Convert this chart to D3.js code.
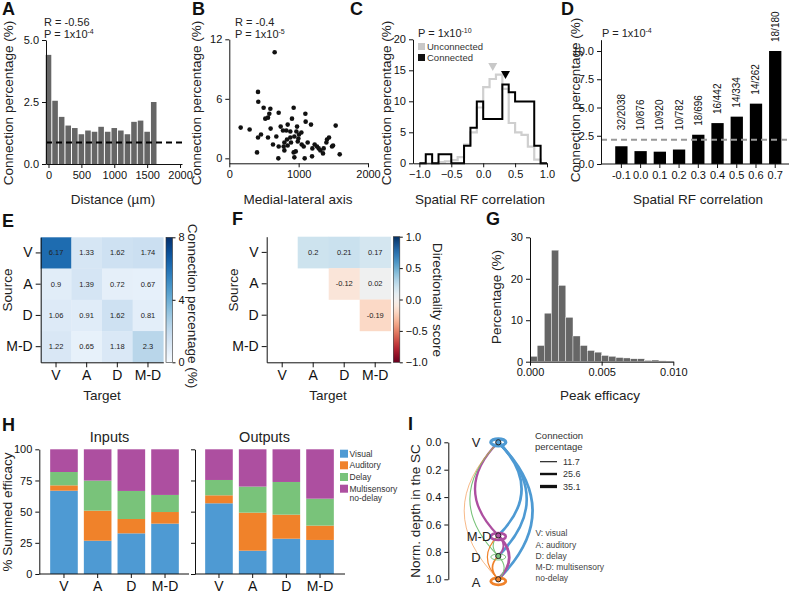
<!DOCTYPE html>
<meta charset="utf-8">
<style>
  body { margin: 0; background: #fff; }
  svg { font-family: Arial, "Liberation Sans", Helvetica, sans-serif; }
  .panel { font-size: 18px; font-weight: bold; fill: #111; }
  .lbl { font-size: 13.5px; fill: #222; }
  .small { font-size: 11px; fill: #222; }
</style>
<svg width="789" height="594"></svg>
<script src="https://d3js.org/d3.v7.min.js"></script>
<script>

// ---------- data ----------
// A: connection percentage vs distance
var distBins = [0, 100, 200, 300, 400, 500, 600, 700, 800, 900, 1000, 1100, 1200, 1300, 1400, 1500, 1600];
var distPct = [4.4, 2.55, 1.9, 1.55, 1.45, 1.2, 1.35, 1.3, 1.5, 1.3, 1.45, 1.35, 1.2, 1.7, 1.75, 1.3, 2.5];
var distChance = 0.87;

// B: medial-lateral scatter
var mlX = [654, 414, 418, 495, 592, 519, 558, 577, 712, 928, 1097, 1101, 1178, 164, 293, 596, 741, 904, 842, 774,
  822, 880, 977, 967, 1005, 1039, 938, 880, 832, 794, 842, 784, 890, 987, 1044, 996, 457, 414, 558, 630,
  678, 712, 928, 958, 938, 707, 1087, 400, 1193, 1198, 1231, 1265, 1289, 1313, 1351, 1361, 1400, 1409, 1438, 1481,
  1496, 1534, 1592, 1073, 1130, 794];
var mlY = [10.7, 6.7, 5.7, 5.1, 5.0, 4.0, 4.1, 4.5, 4.6, 5.1, 4.5, 3.7, 3.4, 3.1, 2.9, 3.0, 3.2, 4.0, 3.4, 2.8,
  2.8, 2.7, 3.2, 2.7, 2.4, 2.6, 2.2, 2.1, 1.9, 1.6, 1.3, 1.2, 1.6, 1.7, 1.4, 2.0, 2.4, 2.1, 2.1, 1.4,
  2.2, 1.2, 0.6, 0.7, 0.1, 0.0, 0.0, 0.6, 0.2, 1.0, 1.4, 1.2, 1.0, 0.8, 0.5, 1.0, 1.6, 1.9, 2.1, 1.2,
  1.3, 3.3, 0.4, 1.2, 1.6, 0.8];

// C: spatial RF correlation histograms
var rfEdges = [-1.0, -0.9, -0.8, -0.7, -0.6, -0.5, -0.4, -0.3, -0.2, -0.1, 0.0, 0.1, 0.2, 0.3, 0.4, 0.5, 0.6, 0.7, 0.8, 0.9];
var rfConnected = [0, 1.45, 0, 1.45, 1.45, 0, 0, 2.85, 5.75, 9.95, 7.15, 7.15, 7.15, 12.7, 11.45, 9.95, 9.95, 9.95, 2.85, 0];
var rfUnconnected = [0, 0, 0, 0.2, 0.3, 0.5, 1.0, 3.0, 5.0, 9.0, 12.3, 13.6, 14.3, 12.0, 6.5, 5.0, 4.6, 2.7, 0.6, 0];
var rfMeanUnconnected = 0.15, rfMeanConnected = 0.35;

// D: connection percentage per RF correlation bin
var rfCats = ["-0.1", "0.0", "0.1", "0.2", "0.3", "0.4", "0.5", "0.6", "0.7"];
var rfPct = [1.57, 1.14, 1.09, 1.28, 2.59, 3.62, 4.19, 5.34, 10.0];
var rfFrac = ["32/2038", "10/876", "10/920", "10/782", "18/696", "16/442", "14/334", "14/262", "18/180"];
var rfChance = 2.15;

// E / F: type matrices
var types = ["V", "A", "D", "M-D"];
var connMatrix = [
  [6.17, 1.33, 1.62, 1.74],
  [0.9, 1.39, 0.72, 0.67],
  [1.06, 0.91, 1.62, 0.81],
  [1.22, 0.65, 1.18, 2.3]
];
var dirSource = ["V", "V", "V", "A", "A", "D"];
var dirTarget = ["A", "D", "M-D", "D", "M-D", "M-D"];
var dirScore = [0.2, 0.21, 0.17, -0.12, 0.02, -0.19];

// G: peak efficacy histogram
var effStart = [0, 0.0005, 0.001, 0.0015, 0.002, 0.0025, 0.003, 0.0035, 0.004, 0.0045,
  0.005, 0.0055, 0.006, 0.0065, 0.007, 0.0075, 0.008, 0.0085, 0.009, 0.0095];
var effPct = [1.3, 3.9, 11.7, 26.9, 18.4, 10.7, 6.2, 3.9, 2.7, 2.3, 1.5, 1.3, 1.0, 0.9, 0.7, 0.7, 0.3, 0.4, 0.2, 0.15];

// H: summed efficacy composition
var groupKeys = ["Visual", "Auditory", "Delay", "Multi"];
var groupNames = ["Visual", "Auditory", "Delay", "Multisensory"];
var groupColors = ["#4e9ad3", "#f0822a", "#79c37a", "#ad4fa0"];
var inVisual = [66.8, 26.7, 32.6, 40.4];
var inAuditory = [4.3, 24.1, 11.5, 9.3];
var inDelay = [10.7, 24.1, 22.5, 13.7];
var inMulti = [18.2, 25.1, 33.4, 36.6];
var outVisual = [56.7, 18.7, 28.3, 27.3];
var outAuditory = [6.4, 30.5, 19.3, 11.5];
var outDelay = [12.3, 20.9, 26.2, 21.6];
var outMulti = [24.6, 29.9, 26.2, 39.6];

// I: depth graph
var nodeNames = ["V", "M-D", "D", "A"];
var nodeDepth = [0, 0.68, 0.83, 1.0];
var nodeColors = ["#4e9ad3", "#ad4fa0", "#79c37a", "#f0822a"];
var edgeSource = ["V", "V", "V", "M-D", "D", "A", "M-D", "M-D", "D", "D", "A", "A"];
var edgeTarget = ["M-D", "D", "A", "V", "V", "V", "D", "A", "M-D", "A", "M-D", "D"];
var edgePct = [28, 28, 28, 24, 11, 6, 20, 28, 11, 11, 12, 18];
var selfPct = [35, 28, 10, 30];
var legendPct = [11.7, 25.6, 35.1];

// ---------- helpers ----------
var svg = d3.select("svg");
svg.append("rect").attr("width", 789).attr("height", 594).attr("fill", "#fff");
var FONT = 'Arial, "Liberation Sans", Helvetica, sans-serif';

function fixAxis(g, fs) {
  g.attr("font-family", FONT).attr("font-size", fs || 11);
  g.selectAll("text").attr("fill", "#111");
  g.selectAll("line,path").attr("stroke", "#111");
}
function panelLabel(x, y, t) {
  svg.append("text").attr("class", "panel").attr("x", x).attr("y", y).text(t);
}
function vLabel(x, y, t, rot) {
  svg.append("text").attr("class", "lbl").attr("text-anchor", "middle")
    .attr("transform", "translate(" + x + "," + y + ") rotate(" + (rot || -90) + ")").text(t);
}
function hLabel(x, y, t, size) {
  svg.append("text").attr("class", "lbl").attr("text-anchor", "middle")
    .attr("x", x).attr("y", y).style("font-size", size ? size + "px" : null).text(t);
}
function pText(x, y, base, exp) {
  var t = svg.append("text").attr("class", "small").attr("x", x).attr("y", y);
  t.append("tspan").text(base);
  t.append("tspan").attr("dy", -4).style("font-size", "7px").text(exp);
}
function hline(x1, x2, y) {
  svg.append("line").attr("x1", x1).attr("x2", x2).attr("y1", y).attr("y2", y).attr("stroke", "#111");
}

// ---------- A ----------
panelLabel(2, 15, "A");
var ax = d3.scaleLinear().domain([-38, 2030]).range([46, 182]);
var ay = d3.scaleLinear().domain([0, 5]).range([164, 40]);
svg.append("g").selectAll("rect").data(distBins).join("rect")
  .attr("x", function (d) { return ax(d - 50) + 0.5; })
  .attr("width", ax(100) - ax(0) - 1)
  .attr("y", function (d, i) { return ay(distPct[i]); })
  .attr("height", function (d, i) { return ay(0) - ay(distPct[i]); })
  .attr("fill", "#666");
svg.append("line").attr("x1", 46).attr("x2", 185).attr("y1", ay(distChance)).attr("y2", ay(distChance))
  .attr("stroke", "#000").attr("stroke-width", 2).attr("stroke-dasharray", "6,4");
svg.append("g").attr("transform", "translate(0,164)")
  .call(d3.axisBottom(ax).tickValues([0, 500, 1000, 1500, 2000]).tickFormat(d3.format("d")).tickSize(4).tickSizeOuter(0)).call(fixAxis);
svg.append("g").attr("transform", "translate(46,0)")
  .call(d3.axisLeft(ay).tickValues([0, 2.5, 5]).tickFormat(d3.format(".1f")).tickSize(4).tickSizeOuter(0)).call(fixAxis);
svg.append("text").attr("class", "small").attr("x", 44).attr("y", 26).text("R = -0.56");
pText(44, 38, "P = 1x10", "-4");
vLabel(13, 103, "Connection percentage (%)");
hLabel(113, 204, "Distance (\u00b5m)");

// ---------- B ----------
panelLabel(192, 15, "B");
var bx = d3.scaleLinear().domain([0, 2000]).range([229.3, 368]);
var by = d3.scaleLinear().domain([-0.5, 12]).range([163.3, 39.3]);
svg.append("g").selectAll("circle").data(mlX).join("circle")
  .attr("cx", function (d) { return bx(d); })
  .attr("cy", function (d, i) { return by(mlY[i]); })
  .attr("r", 2.3).attr("fill", "#111");
svg.append("g").attr("transform", "translate(0,163.3)")
  .call(d3.axisBottom(bx).tickValues([0, 1000, 2000]).tickFormat(d3.format("d")).tickSize(4).tickSizeOuter(0)).call(fixAxis);
svg.append("g").attr("transform", "translate(229.3,0)")
  .call(d3.axisLeft(by).tickValues([0, 6, 12]).tickSize(4).tickSizeOuter(0)).call(fixAxis);
svg.append("text").attr("class", "small").attr("x", 235).attr("y", 26).text("R = -0.4");
pText(235, 38, "P = 1x10", "-5");
vLabel(201, 103, "Connection percentage (%)");
hLabel(298, 204, "Medial-lateral axis");

// ---------- C ----------
panelLabel(350, 15, "C");
var cx = d3.scaleLinear().domain([-1.1, 1.0]).range([413, 547]);
var cy = d3.scaleLinear().domain([0, 20]).range([163.3, 39.3]);
var stepLine = d3.line().curve(d3.curveStepAfter)
  .x(function (d) { return cx(d[0]); }).y(function (d) { return cy(d[1]); });
function stepPts(vals) {
  var pts = rfEdges.map(function (e, i) { return [e, vals[i]]; });
  pts.push([1.0, vals[vals.length - 1]]);
  return pts;
}
svg.append("path").attr("d", stepLine(stepPts(rfUnconnected))).attr("fill", "none")
  .attr("stroke", "#cfcfcf").attr("stroke-width", 2.2);
svg.append("path").attr("d", stepLine(stepPts(rfConnected))).attr("fill", "none")
  .attr("stroke", "#000").attr("stroke-width", 2);
function triangle(x, y, col) {
  svg.append("path").attr("d", "M" + (x - 4.5) + "," + (y - 4) + "L" + (x + 4.5) + "," + (y - 4) + "L" + x + "," + (y + 4) + "Z")
    .attr("fill", col);
}
triangle(cx(rfMeanUnconnected), 67, "#c8c8c8");
triangle(cx(rfMeanConnected), 75, "#000");
svg.append("g").attr("transform", "translate(0,163.3)")
  .call(d3.axisBottom(cx).tickValues([-1, -0.5, 0, 0.5, 1]).tickFormat(d3.format(".1f")).tickSize(4).tickSizeOuter(0)).call(fixAxis);
svg.append("g").attr("transform", "translate(413,0)")
  .call(d3.axisLeft(cy).tickValues([0, 5, 10, 15, 20]).tickSize(4).tickSizeOuter(0)).call(fixAxis);
pText(418, 37, "P = 1x10", "-10");
svg.append("rect").attr("x", 418).attr("y", 43).attr("width", 7).attr("height", 7).attr("fill", "#c8c8c8");
svg.append("rect").attr("x", 418).attr("y", 54).attr("width", 7).attr("height", 7).attr("fill", "#111");
svg.append("text").attr("x", 427).attr("y", 50).style("font-size", "9.5px").attr("fill", "#333").text("Unconnected");
svg.append("text").attr("x", 427).attr("y", 61).style("font-size", "9.5px").attr("fill", "#333").text("Connected");
vLabel(391, 103, "Connection percentage (%)");
hLabel(480, 204, "Spatial RF correlation");

// ---------- D ----------
panelLabel(561, 15, "D");
var dx = d3.scaleBand().domain(rfCats).range([608.3, 788.3]).padding(0.36);
var dy = d3.scaleLinear().domain([0, 11]).range([164, 39.7]);
svg.append("g").selectAll("rect").data(rfCats).join("rect")
  .attr("x", function (d) { return dx(d); }).attr("width", dx.bandwidth())
  .attr("y", function (d, i) { return dy(rfPct[i]); })
  .attr("height", function (d, i) { return dy(0) - dy(rfPct[i]); })
  .attr("fill", "#000");
svg.append("line").attr("x1", 601).attr("x2", 789).attr("y1", dy(rfChance)).attr("y2", dy(rfChance))
  .attr("stroke", "#999").attr("stroke-width", 2).attr("stroke-dasharray", "6,4");
svg.append("g").selectAll("text").data(rfCats).join("text")
  .attr("transform", function (d, i) {
    var x = dx(d) + dx.bandwidth() / 2 + 3.5;
    var y = dy(Math.max(rfPct[i], 2.2)) - 9;
    return "translate(" + x + "," + y + ") rotate(-90)";
  })
  .style("font-size", "10px").attr("fill", "#111")
  .text(function (d, i) { return rfFrac[i]; });
var dAxis = svg.append("g").attr("transform", "translate(0,164)")
  .call(d3.axisBottom(dx).tickSize(4).tickSizeOuter(0)).call(fixAxis);
dAxis.select(".domain").remove();
hline(601, 789, 164);
svg.append("g").attr("transform", "translate(601,0)")
  .call(d3.axisLeft(dy).tickValues([0, 2.5, 5, 7.5, 10]).tickFormat(d3.format(".1f")).tickSize(4).tickSizeOuter(0)).call(fixAxis);
pText(602, 37, "P = 1x10", "-4");
vLabel(580, 100, "Connection percentage (%)");
hLabel(698, 204, "Spatial RF correlation");

// ---------- E ----------
panelLabel(2, 227, "E");
var ex = d3.scaleBand().domain(types).range([40.7, 163.3]);
var ey = d3.scaleBand().domain(types).range([237.3, 362.3]);
var blues = d3.scaleSequential(d3.interpolateBlues).domain([0, 8]);
var eCells = [];
connMatrix.forEach(function (row, i) {
  row.forEach(function (v, j) { eCells.push({ s: types[i], t: types[j], v: v }); });
});
var eg = svg.append("g");
eg.selectAll("rect").data(eCells).join("rect")
  .attr("x", function (d) { return ex(d.t); }).attr("y", function (d) { return ey(d.s); })
  .attr("width", ex.bandwidth() + 0.3).attr("height", ey.bandwidth() + 0.3)
  .attr("fill", function (d) { return blues(d.v); });
eg.selectAll("text").data(eCells).join("text")
  .attr("x", function (d) { return ex(d.t) + ex.bandwidth() / 2; })
  .attr("y", function (d) { return ey(d.s) + ey.bandwidth() / 2 + 2.5; })
  .attr("text-anchor", "middle").style("font-size", "7.5px").attr("fill", "#222")
  .text(function (d) { return d.v; });
svg.append("g").attr("transform", "translate(0,362.3)")
  .call(d3.axisBottom(ex).tickSize(5).tickSizeOuter(0)).call(fixAxis, 14);
svg.append("g").attr("transform", "translate(40.7,0)")
  .call(d3.axisLeft(ey).tickSize(5).tickSizeOuter(0)).call(fixAxis, 14);

var defs = svg.append("defs");
function colorbar(id, x, y0, y1, interp, scale, ticks, fmt) {
  var grad = defs.append("linearGradient").attr("id", id)
    .attr("x1", 0).attr("x2", 0).attr("y1", 1).attr("y2", 0);
  d3.range(0, 1.0001, 0.05).forEach(function (t) {
    grad.append("stop").attr("offset", t).attr("stop-color", interp(t));
  });
  svg.append("rect").attr("x", x).attr("y", y0).attr("width", 6.5).attr("height", y1 - y0)
    .attr("fill", "url(#" + id + ")").attr("stroke", "#333").attr("stroke-width", 0.6);
  svg.append("g").attr("transform", "translate(" + (x + 6.5) + ",0)")
    .call(d3.axisRight(scale).tickValues(ticks).tickFormat(fmt).tickSize(3).tickSizeOuter(0)).call(fixAxis)
    .select(".domain").remove();
}
colorbar("cbE", 166, 237.3, 362.3, d3.interpolateBlues,
  d3.scaleLinear().domain([0, 8]).range([362.3, 237.3]), [0, 4, 8], d3.format("d"));
vLabel(188, 306, "Connection percentage (%)", 90);
vLabel(12, 290, "Source");
hLabel(102, 400, "Target");

// ---------- F ----------
panelLabel(232, 225, "F");
var fx = d3.scaleBand().domain(types).range([266.7, 390.7]);
var fy = d3.scaleBand().domain(types).range([236.7, 362.3]);
var rdbu = function (v) { return d3.interpolateRdBu((v + 1) / 2); };
var fg = svg.append("g");
fg.selectAll("rect").data(dirScore).join("rect")
  .attr("x", function (d, i) { return fx(dirTarget[i]); })
  .attr("y", function (d, i) { return fy(dirSource[i]); })
  .attr("width", fx.bandwidth() + 0.3).attr("height", fy.bandwidth() + 0.3)
  .attr("fill", function (d) { return rdbu(d); });
fg.selectAll("text").data(dirScore).join("text")
  .attr("x", function (d, i) { return fx(dirTarget[i]) + fx.bandwidth() / 2; })
  .attr("y", function (d, i) { return fy(dirSource[i]) + fy.bandwidth() / 2 + 2.5; })
  .attr("text-anchor", "middle").style("font-size", "7.5px").attr("fill", "#222")
  .text(function (d) { return d; });
svg.append("g").attr("transform", "translate(0,362.3)")
  .call(d3.axisBottom(fx).tickSize(5).tickSizeOuter(0)).call(fixAxis, 14);
svg.append("g").attr("transform", "translate(266.7,0)")
  .call(d3.axisLeft(fy).tickSize(5).tickSizeOuter(0)).call(fixAxis, 14);
colorbar("cbF", 393.3, 236.7, 362.3, d3.interpolateRdBu,
  d3.scaleLinear().domain([-1, 1]).range([362.3, 236.7]), [-1, -0.5, 0, 0.5, 1], d3.format(".1f"));
vLabel(433, 300, "Directionality score", 90);
vLabel(238, 290, "Source");
hLabel(328, 400, "Target");

// ---------- G ----------
panelLabel(486, 225, "G");
var gx = d3.scaleLinear().domain([0, 0.01]).range([530, 673.3]);
var gy = d3.scaleLinear().domain([0, 30]).range([361.7, 237.3]);
svg.append("g").selectAll("rect").data(effStart).join("rect")
  .attr("x", function (d) { return gx(d); })
  .attr("width", gx(0.0005) - gx(0))
  .attr("y", function (d, i) { return gy(effPct[i]); })
  .attr("height", function (d, i) { return gy(0) - gy(effPct[i]); })
  .attr("fill", "#666").attr("stroke", "#fff").attr("stroke-width", 0.4);
svg.append("g").attr("transform", "translate(0,361.7)")
  .call(d3.axisBottom(gx).tickValues([0, 0.005, 0.01]).tickFormat(d3.format(".3f")).tickSize(4).tickSizeOuter(0)).call(fixAxis);
svg.append("g").attr("transform", "translate(530,0)")
  .call(d3.axisLeft(gy).tickValues([0, 10, 20, 30]).tickSize(4).tickSizeOuter(0)).call(fixAxis);
vLabel(501, 297, "Percentage (%)");
hLabel(600, 400, "Peak efficacy");

// ---------- H ----------
panelLabel(2, 431, "H");
var hy = d3.scaleLinear().domain([0, 100]).range([574, 449.3]);
function stackPanel(x0, x1, axisX, axisEnd, vis, aud, del, mul, title, showLabels) {
  var rows = types.map(function (t, i) {
    return { type: t, Visual: vis[i], Auditory: aud[i], Delay: del[i], Multi: mul[i] };
  });
  var series = d3.stack().keys(groupKeys)(rows);
  var hx = d3.scaleBand().domain(types).range([x0, x1]).padding(0.18);
  svg.append("g").selectAll("g").data(series).join("g")
    .attr("fill", function (d, i) { return groupColors[i]; })
    .selectAll("rect").data(function (d) { return d; }).join("rect")
    .attr("x", function (d) { return hx(d.data.type); })
    .attr("width", hx.bandwidth())
    .attr("y", function (d) { return hy(d[1]); })
    .attr("height", function (d) { return hy(d[0]) - hy(d[1]); });
  var xa = svg.append("g").attr("transform", "translate(0,574)")
    .call(d3.axisBottom(hx).tickSize(4).tickSizeOuter(0)).call(fixAxis, 14);
  xa.select(".domain").remove();
  xa.selectAll("text").attr("dy", "0.74em");
  hline(axisX, axisEnd, 574);
  var ya = svg.append("g").attr("transform", "translate(" + axisX + ",0)")
    .call(d3.axisLeft(hy).tickValues([0, 25, 50, 75, 100]).tickSize(4).tickSizeOuter(0)).call(fixAxis);
  if (!showLabels) ya.selectAll("text").remove();
  hLabel((x0 + x1) / 2 - 5, 442, title, 14.5);
}
stackPanel(44.1, 184.9, 39.3, 189, inVisual, inAuditory, inDelay, inMulti, "Inputs", true);
stackPanel(199.1, 339.9, 195, 345, outVisual, outAuditory, outDelay, outMulti, "Outputs", false);
vLabel(12, 512, "% Summed efficacy");
var legY = [453.7, 465.3, 477, 488.7];
groupNames.forEach(function (n, i) {
  svg.append("rect").attr("x", 340).attr("y", legY[i] - 4).attr("width", 8).attr("height", 8).attr("fill", groupColors[i]);
  svg.append("text").attr("x", 349.5).attr("y", legY[i] + 3).style("font-size", "8.5px").attr("fill", "#333").text(n);
});
svg.append("text").attr("x", 349.5).attr("y", 500.5).style("font-size", "8.5px").attr("fill", "#333").text("no-delay");

// ---------- I ----------
panelLabel(408, 430, "I");
var iy = d3.scaleLinear().domain([0, 1]).range([442.3, 579.3]);
var nodeX = 498.3;
var wScale = d3.scaleLinear().domain([0, 35.1]).range([0, 3.3]);
function nodeY(n) { return iy(nodeDepth[nodeNames.indexOf(n)]); }
function nodeCol(n) { return nodeColors[nodeNames.indexOf(n)]; }
svg.append("g").attr("transform", "translate(448.3,0)")
  .call(d3.axisLeft(iy).tickValues([0, 0.2, 0.4, 0.6, 0.8, 1.0]).tickFormat(d3.format(".1f")).tickSize(4).tickSizeOuter(0)).call(fixAxis);
vLabel(420, 511, "Norm. depth in the SC");

var ig = svg.append("g").attr("fill", "none");
edgeSource.forEach(function (s, i) {
  var t = edgeTarget[i];
  var y1 = nodeY(s), y2 = nodeY(t);
  var rad = 0.5;
  var c1 = nodeX + rad * (y2 - y1), c2 = (y1 + y2) / 2;
  ig.append("path").attr("d", "M" + nodeX + "," + y1 + "Q" + c1 + "," + c2 + " " + nodeX + "," + y2)
    .attr("stroke", nodeCol(s)).attr("stroke-width", wScale(edgePct[i])).attr("stroke-linecap", "round");
});
var loopRy = [3.5, 3.5, 3, 3.5], loopOff = [0, 1, 1, 2];
nodeNames.forEach(function (n, i) {
  ig.append("ellipse").attr("cx", nodeX).attr("cy", iy(nodeDepth[i]) + loopOff[i])
    .attr("rx", 7.5).attr("ry", loopRy[i])
    .attr("stroke", nodeColors[i]).attr("stroke-width", wScale(selfPct[i]));
});
nodeNames.forEach(function (n, i) {
  svg.append("circle").attr("cx", nodeX).attr("cy", iy(nodeDepth[i])).attr("r", 2.6)
    .attr("fill", nodeColors[i]).attr("stroke", "#222").attr("stroke-width", 1);
});
var nodeLabelX = [476, 479, 476, 476], nodeLabelDy = [0, 1, 1, 3];
nodeNames.forEach(function (n, i) {
  svg.append("text").attr("x", nodeLabelX[i]).attr("y", iy(nodeDepth[i]) + nodeLabelDy[i] + 4.5)
    .attr("text-anchor", "middle").style("font-size", "13px").attr("fill", "#222").text(n);
});
svg.append("text").attr("x", 535).attr("y", 439).style("font-size", "9.5px").attr("fill", "#333").text("Connection");
svg.append("text").attr("x", 535).attr("y", 450).style("font-size", "9.5px").attr("fill", "#333").text("percentage");
var legLineY = [461.7, 474, 486.5];
legendPct.forEach(function (p, i) {
  svg.append("line").attr("x1", 540).attr("x2", 557).attr("y1", legLineY[i]).attr("y2", legLineY[i])
    .attr("stroke", "#111").attr("stroke-width", wScale(p));
  svg.append("text").attr("x", 563).attr("y", legLineY[i] + 3.2).style("font-size", "9px").attr("fill", "#333").text(p);
});
var abbrev = ["V: visual", "A: auditory", "D: delay", "M-D: multisensory", "no-delay"];
var abbrevY = [536, 547.5, 559, 570, 580.5];
abbrev.forEach(function (a, i) {
  svg.append("text").attr("x", 535.5).attr("y", abbrevY[i]).style("font-size", "8.5px").attr("fill", "#444").text(a);
});

</script>
